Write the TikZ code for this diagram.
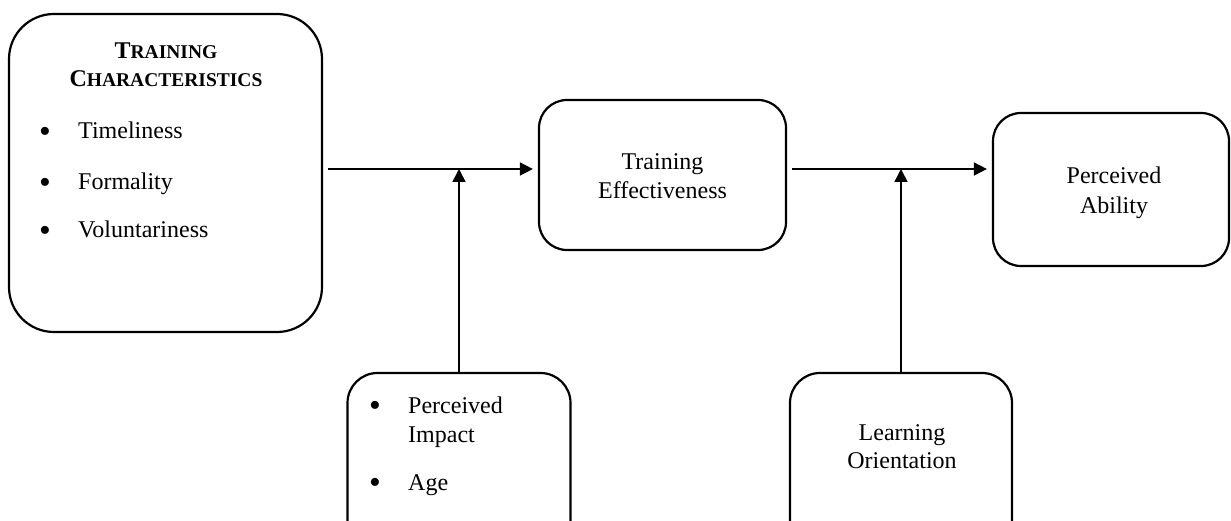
\documentclass[tikz,border=0pt]{standalone}
\usepackage{fontspec}
\setmainfont{Liberation Serif}
\usetikzlibrary{arrows.meta}
\newcommand\mysc[2]{#1{\fontsize{19.5}{20}\selectfont #2}}
\newcommand\mybul{\raisebox{-3.5pt}{\scalebox{1.4}{\textbullet}}}
\begin{document}
\begin{tikzpicture}[x=1pt,y=-1pt,
  box/.style={draw, line width=2.2pt, rounded corners=#1, inner sep=0pt},
  box/.default=28pt,
  txt/.style={font=\fontsize{24}{29}\selectfont, inner sep=0pt, anchor=base},
  ltxt/.style={font=\fontsize{24}{29}\selectfont, inner sep=0pt, anchor=base west},
  bul/.style={font=\fontsize{24}{29}\selectfont, inner sep=0pt, anchor=base},
  arr/.style={line width=1.6pt, -{Triangle[length=13pt,width=13pt]}}]
\useasboundingbox (0,0) rectangle (1231,521);
\clip (0,0) rectangle (1231,521);
% boxes
\node[box=45pt, minimum width=313pt, minimum height=318pt] (B1) at (165.5,173) {};
\node[box, minimum width=247pt, minimum height=150pt] (B2) at (662.5,175) {};
\node[box, minimum width=236pt, minimum height=153pt] (B3) at (1111,189.5) {};
\node[box=30pt, minimum width=223pt, minimum height=187pt] (B4) at (459,466.5) {};
\node[box=30pt, minimum width=222pt, minimum height=187pt] (B5) at (901,466.5) {};
% texts box 1
\node[txt] (t1a) at (166,59) {\bfseries\mysc{T}{RAINING}};
\node[txt] (t1b) at (166,87) {\bfseries\mysc{C}{HARACTERISTICS}};
\node[bul] (b1) at (45,139) {\mybul};
\node[ltxt] (t1c) at (78,139) {Timeliness};
\node[bul] (b2) at (45,190) {\mybul};
\node[ltxt] (t1d) at (78,190) {Formality};
\node[bul] (b3) at (45,238) {\mybul};
\node[ltxt] (t1e) at (78,238) {Voluntariness};
% box 2
\node[txt] (t2a) at (662.5,170) {Training};
\node[txt] (t2b) at (662.5,199) {Effectiveness};
% box 3
\node[txt] (t3a) at (1114,184) {Perceived};
\node[txt] (t3b) at (1114,214) {Ability};
% box 4
\node[bul] (b4) at (375,413) {\mybul};
\node[ltxt] (t4a) at (408,413) {Perceived};
\node[ltxt] (t4b) at (408,442) {Impact};
\node[bul] (b5) at (375,490) {\mybul};
\node[ltxt] (t4c) at (408,490) {Age};
% box 5
\node[txt] (t5a) at (902,440) {Learning};
\node[txt] (t5b) at (902,468) {Orientation};
% connectors
\coordinate (j1) at (459,169);
\coordinate (j2) at (901,169);
\draw[arr, shorten <=5pt, shorten >=5pt] (B1.east |- j1) -- (B2.west |- j1);
\draw[arr, shorten <=5pt, shorten >=5pt] (B2.east |- j2) -- (B3.west |- j2);
\draw[arr] (B4.north) -- (j1);
\draw[arr] (B5.north) -- (j2);
\end{tikzpicture}
\end{document}
